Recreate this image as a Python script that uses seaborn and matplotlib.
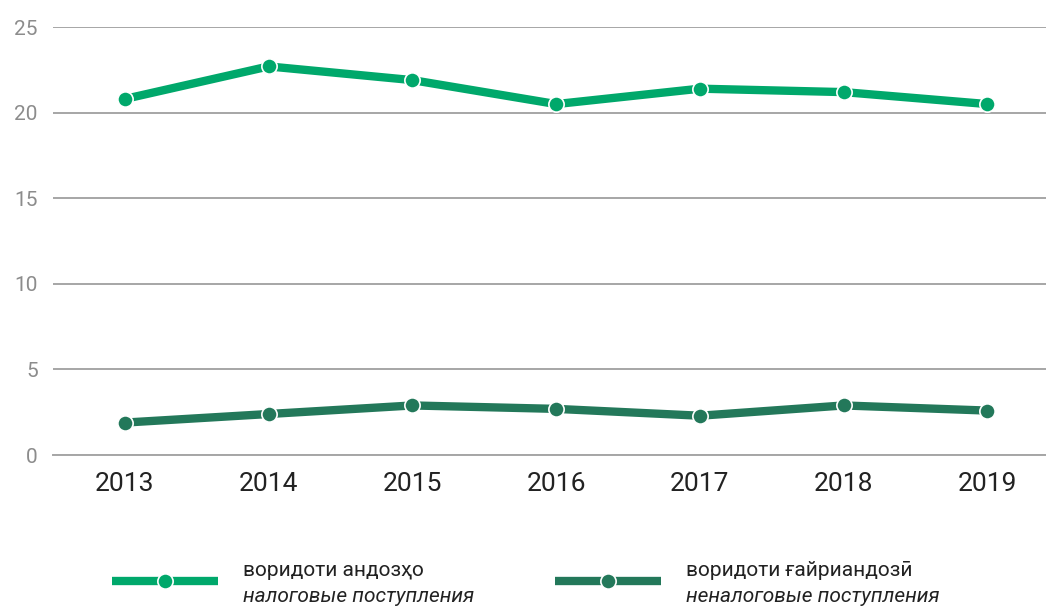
import matplotlib
matplotlib.use("Agg")
import matplotlib.pyplot as plt
from matplotlib.lines import Line2D
import seaborn as sns
import pandas as pd

years = [2013, 2014, 2015, 2016, 2017, 2018, 2019]
tax_revenue = [20.8, 22.7, 21.9, 20.5, 21.4, 21.2, 20.5]
nontax_revenue = [1.9, 2.4, 2.9, 2.7, 2.3, 2.9, 2.6]

series_names = ["воридоти андозҳо", "воридоти ғайриандозӣ"]
series_names_ru = ["налоговые поступления", "неналоговые поступления"]
colors = ["#00a86b", "#23785a"]

sns.set_style("white")
plt.rcParams["font.family"] = ["Roboto", "DejaVu Sans"]

df = pd.DataFrame({
    "year": years * 2,
    "value": tax_revenue + nontax_revenue,
    "series": [series_names[0]] * len(years) + [series_names[1]] * len(years),
})

fig = plt.figure(figsize=(10.46, 6.06), dpi=100)
ax = fig.add_axes([0.0507, 0.249, 0.962, 0.7064])

sns.lineplot(data=df, x="year", y="value", hue="series", palette=colors,
             linewidth=6, marker="o", markersize=11, markeredgecolor="white",
             markeredgewidth=1.2, legend=False, ax=ax, zorder=3)

ax.set_xlim(years[0] - 0.5, years[-1] + 0.5)
ax.set_ylim(0, 25)
ax.set_yticks([0, 5, 10, 15, 20, 25])
ax.set_xticks(years)
ax.set_xticks([y - 0.5 for y in years] + [years[-1] + 0.5], minor=True)
ax.set_xlabel("")
ax.set_ylabel("")

ax.grid(axis="y", color="#a6a6a6", linewidth=1.4, zorder=0)
for s in ["top", "right", "left"]:
    ax.spines[s].set_visible(False)
ax.spines["bottom"].set_color("#a6a6a6")
ax.spines["bottom"].set_linewidth(1.4)

ax.tick_params(axis="y", length=0, pad=11, labelsize=15, labelcolor="#8c8c8c")
ax.tick_params(axis="x", which="major", length=0, pad=12, labelsize=19, labelcolor="#222222")
ax.tick_params(axis="x", which="minor", direction="in", length=10, width=1.4, color="#a6a6a6")

# legend
legend_x = [0.107, 0.531]
for i in range(2):
    x0 = legend_x[i]
    fig.add_artist(Line2D([x0, x0 + 0.101], [0.041, 0.041], transform=fig.transFigure,
                          color=colors[i], linewidth=6, solid_capstyle="butt"))
    fig.add_artist(Line2D([x0 + 0.0505], [0.041], transform=fig.transFigure,
                          color=colors[i], marker="o", markersize=11,
                          markeredgecolor="white", markeredgewidth=1.2))
    fig.text(x0 + 0.125, 0.058, series_names[i], fontsize=15, color="#222222",
             va="center", ha="left")
    fig.text(x0 + 0.125, 0.016, series_names_ru[i], fontsize=15, color="#222222",
             style="italic", va="center", ha="left")

fig.savefig("out.png", dpi=100)
